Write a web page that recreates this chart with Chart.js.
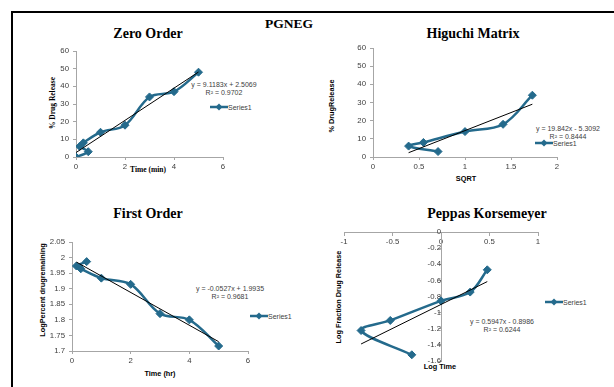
<!DOCTYPE html>
<html><head><meta charset="utf-8">
<script src="https://cdn.jsdelivr.net/npm/chart.js@4"></script>
<style>
body{margin:0;width:614px;height:387px;overflow:hidden;background:#fff;position:relative;font-family:"Liberation Sans",Arial,sans-serif}
.frame{position:absolute;left:11px;top:11px;width:700px;height:500px;border-top:2px solid #000;border-left:2px solid #000}
canvas{position:absolute}
.t{position:absolute;white-space:nowrap;transform:translate(-50%,-50%);line-height:1}
.ttl{font-family:"Liberation Serif","Times New Roman",serif;font-weight:bold;font-size:14px;color:#000}
.axs{font-family:"Liberation Serif","Times New Roman",serif;font-weight:bold;font-size:7.5px;color:#000}
.axa{font-family:"Liberation Sans",Arial,sans-serif;font-weight:bold;font-size:7.3px;color:#000}
.rot{transform:translate(-50%,-50%) rotate(-90deg)}
.eq{font-family:"Liberation Sans",Arial,sans-serif;font-size:7px;color:#404040;text-align:center}
.leg{position:absolute;display:flex;align-items:center;font-size:7px;color:#404040;transform:translateY(-50%);line-height:1}
</style>
</head><body>
<div class="frame"></div>

<div class="t ttl" style="left:289px;top:24px;font-size:13.5px">PGNEG</div>
<div class="t ttl" style="left:148px;top:34px">Zero Order</div>
<div class="t ttl" style="left:473px;top:34px">Higuchi Matrix</div>
<div class="t ttl" style="left:148px;top:214px">First Order</div>
<div class="t ttl" style="left:487px;top:214px">Peppas Korsemeyer</div>

<div class="t axs rot" style="left:53px;top:103px">% Drug Release</div>
<div class="t axs" style="left:148px;top:170px">Time (min)</div>
<div class="t axa rot" style="left:332px;top:106px">% DrugRelease</div>
<div class="t axa" style="left:466px;top:179px">SQRT</div>
<div class="t axa rot" style="left:43px;top:290px">LogPercent drugremaining</div>
<div class="t axa" style="left:160px;top:374px">Time (hr)</div>
<div class="t axa rot" style="left:339px;top:297px">Log Fraction Drug Release</div>
<div class="t axa" style="left:440px;top:367px">Log Time</div>

<div class="t eq" style="left:224px;top:89px">y = 9.1183x + 2.5069<br><span style="line-height:10px">R² = 0.9702</span></div>
<div class="t eq" style="left:568px;top:133px">y = 19.842x - 5.3092<br><span style="line-height:10px">R² = 0.8444</span></div>
<div class="t eq" style="left:230px;top:293px">y = -0.0527x + 1.9935<br><span style="line-height:10px">R² = 0.9681</span></div>
<div class="t eq" style="left:502px;top:326px">y = 0.5947x - 0.8986<br><span style="line-height:10px">R² = 0.6244</span></div>

<div id="legends"></div>

<script>
// ---- data ----
const zeroTime = [0, 0.5, 0.15, 0.3, 1, 2, 3, 4, 5];
const zeroRelease = [0, 3, 6, 8, 14, 18, 34, 37, 48];
const zeroTrendX = [0, 5];
const zeroTrendY = [2.51, 48.10];
const zeroXTicks = [0, 2, 4, 6];
const zeroYTicks = [0, 10, 20, 30, 40, 50, 60];

const sqrtTime = [0.707, 0.387, 0.548, 1, 1.414, 1.732];
const higuchiRelease = [3, 6, 8, 14, 18, 34];
const higuchiTrendX = [0.387, 1.732];
const higuchiTrendY = [2.37, 29.06];
const higuchiXTicks = [0, 0.5, 1, 1.5, 2];
const higuchiYTicks = [0, 10, 20, 30, 40, 50, 60];

const firstTime = [0.5, 0.15, 0.3, 1, 2, 3, 4, 5];
const logRemaining = [1.987, 1.973, 1.964, 1.934, 1.914, 1.820, 1.800, 1.716];
const firstTrendX = [0.15, 5];
const firstTrendY = [1.9856, 1.7300];
const firstXTicks = [0, 2, 4, 6];
const firstYTicks = [1.7, 1.75, 1.8, 1.85, 1.9, 1.95, 2, 2.05];

const logTime = [-0.301, -0.824, -0.523, 0, 0.301, 0.477];
const logFraction = [-1.523, -1.222, -1.097, -0.854, -0.745, -0.469];
const peppasTrendX = [-0.824, 0.477];
const peppasTrendY = [-1.389, -0.615];
const peppasXTicks = [-1, -0.5, 0, 0.5, 1];
const peppasYTicks = [-1.6, -1.4, -1.2, -1, -0.8, -0.6, -0.4, -0.2, 0];

const SERIES = '#246A8C';
const AXIS = '#a6a6a6';
const TICKTXT = '#404040';
const TICKSIZE = 7.8;

function pts(xs, ys){ return xs.map((x,i)=>({x:x, y:ys[i]})); }
function fmt(v){ return String(+Number(v).toFixed(3)); }

function makeChart(area, m, xs, ys, tx, ty, xTicks, yTicks, centered){
  const c = document.createElement('canvas');
  const w = Math.round(area.r - area.l + m.l + m.r);
  const h = Math.round(area.b - area.t + m.t + m.b);
  c.width = w; c.height = h;
  c.style.left = (area.l - m.l) + 'px';
  c.style.top = (area.t - m.t) + 'px';
  c.style.width = w + 'px'; c.style.height = h + 'px';
  document.body.appendChild(c);
  const noPad = s => { s.paddingTop = 0; s.paddingBottom = 0; s.paddingLeft = 0; s.paddingRight = 0; };
  const xScale = {
    type: 'linear', min: xTicks[0], max: xTicks[xTicks.length-1],
    afterBuildTicks: s => { s.ticks = xTicks.map(v => ({value: v})); },
    afterFit: s => { if (!centered) s.height = m.b; noPad(s); },
    grid: { display: true, drawOnChartArea: false, drawTicks: true, tickLength: 3, color: AXIS },
    border: { display: true, color: AXIS, width: 1 },
    ticks: { autoSkip: false, maxRotation: 0, padding: 2.5, color: TICKTXT, font: {family: 'Liberation Sans', size: TICKSIZE}, callback: fmt }
  };
  const yScale = {
    type: 'linear', min: yTicks[0], max: yTicks[yTicks.length-1],
    afterBuildTicks: s => { s.ticks = yTicks.map(v => ({value: v})); },
    afterFit: s => { if (!centered) s.width = m.l; noPad(s); },
    grid: { display: true, drawOnChartArea: false, drawTicks: true, tickLength: 3, color: AXIS },
    border: { display: true, color: AXIS, width: 1 },
    ticks: { autoSkip: false, padding: 4, color: TICKTXT, font: {family: 'Liberation Sans', size: TICKSIZE}, callback: fmt }
  };
  if (centered) { xScale.position = {y: 0}; yScale.position = {x: 0}; }
  const pad = centered ? {left: m.l, top: m.t, right: m.r, bottom: m.b} : {left: 0, top: m.t, right: m.r, bottom: 0};
  new Chart(c, {
    type: 'scatter',
    data: { datasets: [
      { label: 'Linear (Series1)', data: pts(tx, ty), showLine: true, borderColor: '#000', borderWidth: 1, pointRadius: 0, tension: 0, fill: false },
      { label: 'Series1', data: pts(xs, ys), showLine: true, borderColor: SERIES, backgroundColor: SERIES, borderWidth: 2.5, tension: 0.35,
        pointStyle: 'rectRot', pointRadius: 4, pointBorderWidth: 1, pointBackgroundColor: SERIES, pointBorderColor: SERIES, fill: false }
    ]},
    options: {
      responsive: false, animation: false, devicePixelRatio: 1,
      layout: { padding: pad },
      plugins: { legend: { display: false }, tooltip: { enabled: false } },
      scales: { x: xScale, y: yScale }
    }
  });
}

makeChart({l:76, r:222.7, t:50.7, b:156.7}, {l:30, r:8, t:8, b:14}, zeroTime, zeroRelease, zeroTrendX, zeroTrendY, zeroXTicks, zeroYTicks, false);
makeChart({l:372.7, r:557, t:47.7, b:156.7}, {l:30, r:8, t:8, b:14}, sqrtTime, higuchiRelease, higuchiTrendX, higuchiTrendY, higuchiXTicks, higuchiYTicks, false);
makeChart({l:72, r:248.3, t:242.3, b:351}, {l:30, r:8, t:8, b:14}, firstTime, logRemaining, firstTrendX, firstTrendY, firstXTicks, firstYTicks, false);
makeChart({l:343.7, r:538, t:232.3, b:361}, {l:8, r:8, t:8, b:8}, logTime, logFraction, peppasTrendX, peppasTrendY, peppasXTicks, peppasYTicks, true);

// legends (Series1 entries)
const legendPos = [[210, 107.3], [535, 142.7], [250, 316], [545, 301.7]];
const holder = document.getElementById('legends');
legendPos.forEach(p => {
  const d = document.createElement('div');
  d.className = 'leg';
  d.style.left = p[0] + 'px'; d.style.top = p[1] + 'px';
  d.innerHTML = '<svg width="18" height="9" style="display:block"><line x1="0" y1="4.5" x2="18" y2="4.5" stroke="' + SERIES + '" stroke-width="2.5"/><polygon points="9,1 12.5,4.5 9,8 5.5,4.5" fill="' + SERIES + '"/></svg><span>Series1</span>';
  holder.appendChild(d);
});
</script>
</body></html>
